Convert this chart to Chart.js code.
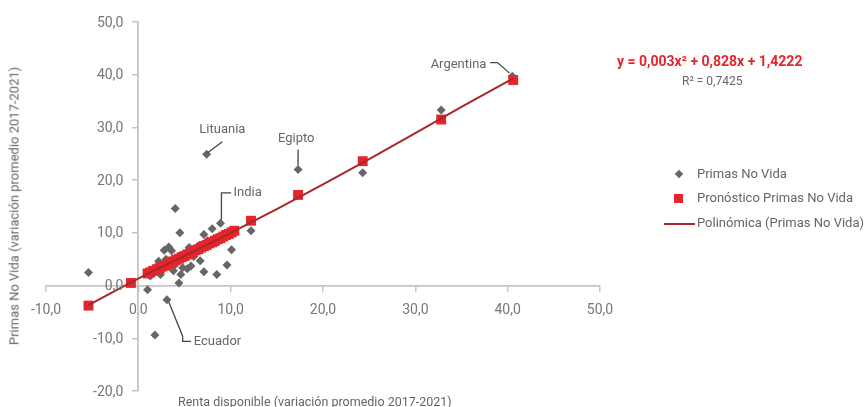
<!DOCTYPE html>
<html>
<head>
<meta charset="utf-8">
<script src="https://cdn.jsdelivr.net/npm/chart.js@4.4.1/dist/chart.umd.min.js"></script>
<style>
  body { margin: 0; background: #fff; font-family: Roboto, sans-serif; }
  #wrap { position: relative; width: 865px; height: 407px; }
  #chart { position: absolute; left: 0; top: 0; }
  .txt { position: absolute; white-space: nowrap; color: #666; }
  #eq { left: 617px; top: 53px; font-size: 14px; font-weight: bold; color: #e4252b; }
  #r2 { left: 682px; top: 74px; font-size: 12px; color: #666; }
  #ytitle { left: 14px; top: 206px; font-size: 13px; transform: translate(-50%, -50%) rotate(-90deg); }
  #xtitle { left: 178px; top: 394px; font-size: 12.5px; }
  .leg { position: absolute; left: 664px; height: 20px; font-size: 13px; color: #666; }
  .leg span.t { position: absolute; left: 33px; top: 1px; white-space: nowrap; }
  .mk { position: absolute; }
</style>
</head>
<body>
<div id="wrap">
  <canvas id="chart" width="865" height="407"></canvas>
  <div class="txt" id="eq">y = 0,003x² + 0,828x + 1,4222</div>
  <div class="txt" id="r2">R² = 0,7425</div>
  <div class="txt" id="ytitle">Primas No Vida (variación promedio 2017-2021)</div>
  <div class="txt" id="xtitle">Renta disponible (variación promedio 2017-2021)</div>
  <div class="leg" style="top:165px"><div class="mk" style="left:12px;top:6px;width:6px;height:6px;background:#666;transform:rotate(45deg)"></div><span class="t">Primas No Vida</span></div>
  <div class="leg" style="top:189px"><div class="mk" style="left:10px;top:5px;width:9px;height:9px;background:#e4252b"></div><span class="t">Pronóstico Primas No Vida</span></div>
  <div class="leg" style="top:214px"><div class="mk" style="left:0px;top:9px;width:31px;height:2px;background:#a8272c"></div><span class="t">Polinómica (Primas No Vida)</span></div>
</div>
<script>
// Primas No Vida (observed)
const primasX = [40.5, 32.8, 24.3, 17.3, 12.2, 7.4, 8.9, 4.0, 4.5, -5.4, 1.0, 3.1, 1.8, 4.4, 10.1, 9.6, 8.5, 7.1, 6.7, 5.7,
                 4.6, 3.3, 2.8, 3.6, 2.2, 1.3, 2.4, 8.0, 7.1, 4.8, 5.3, 6.0, 3.0, 5.0, 6.5, 7.5, 9.3, 5.5, 2.0, 4.0,
                 3.8, 6.2, 8.6, 10.3];
const primasY = [39.7, 33.3, 21.4, 22.0, 10.4, 24.9, 11.8, 14.6, 10.0, 2.5, -0.8, -2.7, -9.4, 0.5, 6.8, 3.9, 2.1, 2.6, 4.7, 3.7,
                 2.1, 7.3, 6.7, 6.6, 4.6, 1.8, 2.1, 10.8, 9.7, 3.4, 3.2, 5.5, 5.0, 6.0, 7.5, 8.5, 9.8, 7.2, 3.5, 4.0,
                 2.8, 6.4, 8.3, 10.3];

// Pronóstico Primas No Vida
const pronosticoX = [-5.4, -0.8, 1.0, 1.3, 1.6, 2.0, 2.3, 2.6, 2.9, 3.2, 3.5, 3.8, 4.1, 4.4, 4.7, 5.0, 5.3, 5.6, 5.9, 6.2,
                     6.5, 6.8, 7.1, 7.4, 7.7, 8.0, 8.3, 8.6, 8.9, 9.2, 9.5, 9.8, 10.1, 10.4, 12.2, 17.3, 24.3, 32.8, 40.6];
const pronosticoY = [-3.8, 0.5, 2.3, 2.5, 2.8, 3.1, 3.3, 3.6, 3.8, 4.1, 4.4, 4.6, 4.9, 5.1, 5.4, 5.6, 5.9, 6.1, 6.4, 6.7,
                     6.9, 7.2, 7.5, 7.7, 8.0, 8.2, 8.5, 8.8, 9.0, 9.3, 9.6, 9.8, 10.1, 10.4, 12.3, 17.2, 23.6, 31.5, 39.0];

// Polinómica (Primas No Vida)
const tendenciaX = [-5.4, -0.8, 2.0, 5.0, 10.0, 15.0, 20.0, 25.0, 30.0, 35.0, 40.6];
const tendenciaY = [-3.7, 0.6, 3.1, 5.6, 10.0, 14.5, 19.2, 24.0, 28.9, 33.9, 39.3];

const xTicks = [-10, 0, 10, 20, 30, 40, 50];
const yTicks = [-20, -10, 0, 10, 20, 30, 40, 50];

// callouts: text position in data units + leader line points
const callouts = [
    { text: 'Argentina', x: 37.7, y: 41.9, align: 'right', line: [[38.1, 42.3], [38.9, 42.3], [40.2, 40.3]] },
    { text: 'Lituania', x: 9.1, y: 29.6, align: 'center', line: [[9.1, 27.3], [7.5, 25.2]] },
    { text: 'Egipto', x: 17.1, y: 27.8, align: 'center', line: [[17.3, 25.8], [17.3, 22.8]] },
    { text: 'India', x: 10.3, y: 17.6, align: 'left', line: [[10.05, 17.6], [9.0, 17.6], [9.0, 12.5]] },
    { text: 'Ecuador', x: 6.0, y: -10.6, align: 'left', line: [[3.3, -3.1], [4.8, -9.6], [4.8, -10.6], [5.7, -10.6]] }
];

const toPoints = (xs, ys) => xs.map((x, i) => ({ x: x, y: ys[i] }));
const fmt = v => v.toFixed(1).replace('.', ',');

const calloutPlugin = {
    id: 'callouts',
    afterDatasetsDraw(chart) {
        const ctx = chart.ctx;
        const sx = chart.scales.x, sy = chart.scales.y;
        ctx.save();
        // y tick labels sit left of the crossing axis (chart.js puts them flush against it)
        ctx.fillStyle = '#777';
        ctx.font = '14px Roboto';
        ctx.textAlign = 'right';
        ctx.textBaseline = 'middle';
        const axisX = sx.getPixelForValue(0);
        yTicks.forEach(v => ctx.fillText(fmt(v), axisX - 15, sy.getPixelForValue(v) + 1));

        ctx.strokeStyle = '#444';
        ctx.lineWidth = 1.3;
        ctx.fillStyle = '#666';
        ctx.font = '13px Roboto';
        callouts.forEach(c => {
            ctx.beginPath();
            c.line.forEach((p, i) => {
                const px = sx.getPixelForValue(p[0]), py = sy.getPixelForValue(p[1]);
                if (i === 0) ctx.moveTo(px, py); else ctx.lineTo(px, py);
            });
            ctx.stroke();
            ctx.textAlign = c.align;
            ctx.fillText(c.text, sx.getPixelForValue(c.x), sy.getPixelForValue(c.y));
        });
        ctx.restore();
    }
};

const axisStyle = {
    grid: { display: true, drawOnChartArea: false, drawTicks: true, tickLength: 5, color: '#c4c4c4', lineWidth: 1.5 },
    border: { display: true, color: '#c4c4c4', width: 1.8 },
    ticks: { color: '#777', font: { family: 'Roboto', size: 14 }, callback: v => fmt(v) }
};

new Chart(document.getElementById('chart'), {
    type: 'scatter',
    data: {
        datasets: [
            {
                label: 'Polinómica (Primas No Vida)',
                data: toPoints(tendenciaX, tendenciaY),
                showLine: true,
                borderColor: '#a8272c',
                borderWidth: 2,
                pointRadius: 0
            },
            {
                label: 'Pronóstico Primas No Vida',
                data: toPoints(pronosticoX, pronosticoY),
                pointStyle: 'rect',
                pointRadius: 7,
                backgroundColor: '#e4252b',
                borderColor: '#e4252b',
                borderWidth: 0
            },
            {
                label: 'Primas No Vida',
                data: toPoints(primasX, primasY),
                pointStyle: 'rectRot',
                pointRadius: 4.5,
                backgroundColor: '#666',
                borderColor: '#666',
                borderWidth: 0
            }
        ]
    },
    options: {
        responsive: false,
        animation: false,
        layout: { padding: { left: 46, right: 265, top: 22, bottom: 16 } },
        plugins: { legend: { display: false }, tooltip: { enabled: false } },
        scales: {
            x: {
                ...axisStyle,
                type: 'linear',
                position: { y: 0 },
                min: -10, max: 50,
                afterBuildTicks: s => { s.ticks = xTicks.map(v => ({ value: v })); },
                ticks: { ...axisStyle.ticks, padding: 12, maxRotation: 0 }
            },
            y: {
                ...axisStyle,
                type: 'linear',
                position: { x: 0 },
                min: -20, max: 50,
                afterBuildTicks: s => { s.ticks = yTicks.map(v => ({ value: v })); },
                ticks: { ...axisStyle.ticks, display: false }
            }
        }
    },
    plugins: [calloutPlugin]
});
</script>
</body>
</html>
